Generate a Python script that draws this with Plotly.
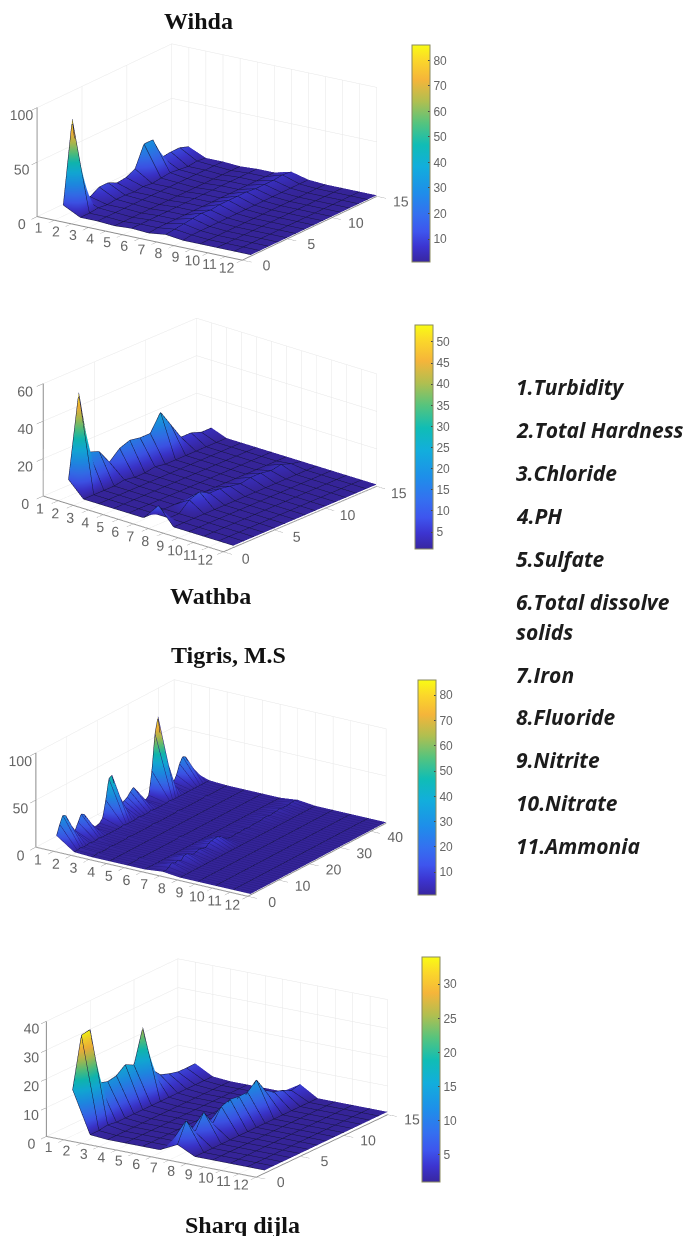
import math
import plotly.graph_objects as go

W, H = 686, 1236

sample_wy = list(range(1, 16))
sample_t = list(range(1, 46))
params = list(range(1, 13))

# rows: parameter 1..12, columns: sample
wihda_rows = [
 [10,85,10,6,11,11,7,8,12,31,31,11,12,12,9],
 [2,2,3,2,3,3,2,3,2,3,4,3,2,3,2],
 [2,2,2,2,2,2,2,2,2,2,2,2,2,2,2],
 [1,1,1,1,1,1,1,1,1,1,1,1,1,1,1],
 [2,2,2,2,2,2,2,2,2,2,2,2,2,2,2],
 [1,2,2,2,2,2,2,2,2,2,2,2,2,2,2],
 [3,4,5,6,7,6,7,7,7,7,6,6,6,7,6],
 [1,2,2,2,2,2,2,2,2,2,2,2,2,2,2],
 [1,1,1,1,1,1,1,1,1,1,1,1,1,1,1],
 [1,1,1,1,1,1,1,1,1,1,1,1,1,1,1],
 [1,1,1,1,1,1,1,1,1,1,1,1,1,1,1],
 [1,1,1,1,1,1,1,1,1,1,1,1,1,1,1],
]
wathba_rows = [
 [9,53,19,17,9,14,16,15,15,24,15,6,6,4,4],
 [1,1,1,1,2,1,1,2,1,1,1,1,1,1,1],
 [1,1,1,1,1,1,1,1,1,1,1,1,1,1,1],
 [1,1,1,1,1,1,1,1,1,1,1,1,1,1,1],
 [1,1,1,1,1,1,1,1,1,1,1,1,1,1,1],
 [1,1,1,1,1,1,1,1,1,1,1,1,1,1,1],
 [10,1,1,6,8,5,5,4,3,4,4,3,4,2,1],
 [1,1,1,1,1,1,1,1,1,1,1,1,1,1,1],
 [1,1,1,1,1,1,1,1,1,1,1,1,1,1,1],
 [1,1,1,1,1,1,1,1,1,1,1,1,1,1,1],
 [1,1,1,1,1,1,1,1,1,1,1,1,1,1,1],
 [1,1,1,1,1,1,1,1,1,1,1,1,1,1,1],
]
tigris_p1 = [15,25,33,31,22,13,10,17,24,22,14,7,3,3,4,8,25,46,48,33,18,12,14,16,20,23,18,10,5,3,6,30,68,84,55,25,10,5,6,12,22,28,26,17,8]
tigris_p2 = [2,2,3,2,2,3,2,2,3,2,2,2,2,2,2,2,3,2,2,2,2,3,2,2,2,3,2,2,2,2,2,3,2,2,2,2,2,2,2,2,2,2,2,2,2]
tigris_p3 = [1,1,2,1,1,1,2,1,1,1,1,1,2,1,1,1,1,1,1,1,2,1,1,1,1,1,1,1,2,1,1,1,1,1,1,1,1,2,1,1,1,1,1,1,1]
tigris_p4 = [1,1,1,1,1,1,1,1,1,1,1,1,1,1,1,1,1,1,1,1,1,1,1,1,1,1,1,1,1,1,1,1,1,1,1,1,1,1,1,1,1,1,1,1,1]
tigris_p5 = [1,1,1,1,2,1,1,1,1,1,1,1,1,1,1,1,1,2,1,1,1,1,1,1,1,1,1,1,1,1,1,1,1,1,1,1,1,1,1,1,1,1,1,1,1]
tigris_p6 = [1,1,1,1,1,1,1,1,1,1,1,1,1,1,1,1,1,1,1,1,1,1,1,1,1,1,1,1,1,1,1,1,1,1,1,1,1,1,1,1,1,1,1,1,1]
tigris_p7 = [3,2,4,7,5,6,4,8,8,6,4,5,6,5,4,7,8,9,9,7,4,2,1,1,2,1,2,2,1,2,2,2,2,3,3,2,3,3,4,3,3,3,4,4,3]
tigris_p8 = [1,1,1,1,1,1,1,1,1,1,1,1,1,1,1,1,1,1,1,1,1,1,1,1,1,1,1,1,1,1,1,1,1,1,1,1,1,1,1,1,1,1,1,1,1]
tigris_p9 = tigris_p8[:]
tigris_p10 = tigris_p8[:]
tigris_p11 = tigris_p8[:]
tigris_p12 = tigris_p8[:]
tigris_rows = [tigris_p1, tigris_p2, tigris_p3, tigris_p4, tigris_p5, tigris_p6,
               tigris_p7, tigris_p8, tigris_p9, tigris_p10, tigris_p11, tigris_p12]
sharq_rows = [
 [16,33.5,34,14,13,13.6,16,14.4,26,10,6.7,5.6,4.8,4.7,4.8],
 [1.5,1.5,2,1.5,1.5,1.5,1.5,1.5,1.5,1.5,1.5,1.5,1.5,1.5,1.5],
 [1,1,1,1,1,1,1,1,1,1,1,1,1,1,1],
 [1,1,1,1,1,1,1,1,1,1,1,1,1,1,1],
 [1,1,1,1,1,1,1,1,1,1,1,1,1,1,1],
 [1,1,1,1,1,1,1,1,1,1,1,1,1,1,1],
 [4,11,5.5,11,5.5,10,11,10.6,10.6,13.5,8.3,6.4,5.5,4,4.7],
 [1,1,1,1,1,1,1,1,1,1,1,1,1,1,1],
 [1,1,1,1,1,1,1,1,1,1,1,1,1,1,1],
 [1,1,1,1,1,1,1,1,1,1,1,1,1,1,1],
 [1,1,1,1,1,1,1,1,1,1,1,1,1,1,1],
 [1,1,1,1,1,1,1,1,1,1,1,1,1,1,1],
]

legend_labels = ["1.Turbidity", "2.Total Hardness", "3.Chloride", "4.PH", "5.Sulfate",
                 "6.Total dissolve", "solids", "7.Iron", "8.Fluoride", "9.Nitrite",
                 "10.Nitrate", "11.Ammonia"]
legend_ys = [387, 430, 473, 516, 559, 602, 632, 675, 717, 760, 803, 846]

parula = [[0, "#3826a0"], [0.07, "#3c34d0"], [0.14, "#3e55ee"], [0.22, "#3470f0"], [0.32, "#1e8eea"],
          [0.44, "#12aedc"], [0.54, "#10bdb5"], [0.64, "#55c47e"], [0.74, "#b0bf50"],
          [0.84, "#f5b53a"], [0.93, "#fbd72a"], [1, "#f9fb14"]]

charts = [
 dict(rows=wihda_rows, ys=sample_wy, yr=15, yt=[0,5,10,15], zr=100, zt=[0,50,100], cmax=86, cb=list(range(10,90,10)),
      theta=18.5, phi=33.8, asp=(1.02,1,0.475), s=1.92, center=(206.5,152), half=(201,126), yline="#14143c",
      bar=(412,45,262), scene="scene"),
 dict(rows=wathba_rows, ys=sample_wy, yr=15, yt=[0,5,10,15], zr=60, zt=[0,20,40,60], cmax=54, cb=list(range(5,55,5)),
      theta=21.3, phi=40.4, asp=(1,1,0.51), s=1.69, center=(209.5,435), half=(205,140), yline="#14143c",
      bar=(415,325,549), scene="scene2"),
 dict(rows=tigris_rows, ys=sample_t, yr=45, yt=[0,10,20,30,40], zr=100, zt=[0,50,100], cmax=86, cb=list(range(10,90,10)),
      theta=20.5, phi=33.5, asp=(1.05,1.035,0.416), s=1.937, center=(211,788), half=(205,125), yline="#261c80",
      bar=(418,680,895), scene="scene3"),
 dict(rows=sharq_rows, ys=sample_wy, yr=15, yt=[0,5,10,15], zr=40, zt=[0,10,20,30,40], cmax=34, cb=list(range(5,35,5)),
      theta=17.7, phi=32.6, asp=(1.02,1,0.495), s=1.953, center=(216.5,1068), half=(205,125), yline="#14143c",
      bar=(422,957,1182), scene="scene4"),
]

fig = go.Figure()
layout = {}
for c in charts:
    z = [[row[j] for row in c["rows"]] for j in range(len(c["ys"]))]
    x0, y0, y1 = c["bar"]
    fig.add_trace(go.Surface(
        x=params, y=c["ys"], z=z, scene=c["scene"], colorscale=parula, cmin=1, cmax=c["cmax"],
        lighting=dict(ambient=0.95, diffuse=0.2, specular=0, roughness=1, fresnel=0),
        lightposition=dict(x=1000, y=-3000, z=6000),
        contours=dict(
            x=dict(show=True, color="#14143c", width=1, start=1, end=12, size=1, highlight=False),
            y=dict(show=True, color=c["yline"], width=1, start=1, end=c["ys"][-1], size=1, highlight=False),
            z=dict(highlight=False)),
        hoverinfo="skip",
        colorbar=dict(thickness=18, thicknessmode="pixels", lenmode="fraction", len=(y1-y0)/H,
                      x=x0/W, xanchor="left", xref="paper", y=1-y1/H, yanchor="bottom", yref="paper",
                      tickvals=c["cb"], ticks="inside", ticklen=2, tickcolor="#444",
                      tickfont=dict(size=12, color="#666", family="Liberation Sans"),
                      outlinecolor="#8a8a60", outlinewidth=1, xpad=0, ypad=0),
    ))
    th, ph = math.radians(c["theta"]), math.radians(c["phi"])
    d = 4.0
    eye = dict(x=d*math.sin(ph)*math.cos(th), y=-d*math.cos(ph)*math.cos(th), z=d*math.sin(th))
    cx, cy = c["center"]
    hx, hy = c["half"]
    def ax(rng, tv, tl=4):
        return dict(range=rng, autorange=False, tickmode="array", tickvals=tv, ticktext=[str(t) for t in tv],
                    showbackground=False, gridcolor="#e6e6e6", gridwidth=1, showline=True, linecolor="#8c8c8c",
                    linewidth=2, ticks="outside", ticklen=tl, tickcolor="#8c8c8c", zeroline=False,
                    showspikes=False, title=dict(text=""), tickangle=0,
                    tickfont=dict(size=13, color="#666", family="Liberation Sans"))
    layout[c["scene"]] = dict(
        domain=dict(x=[(cx-hx)/W, (cx+hx)/W], y=[1-(cy+hy)/H, 1-(cy-hy)/H]),
        xaxis=ax([0,12], list(range(0,13)), 11),
        yaxis=ax([0,c["yr"]], c["yt"], 10),
        zaxis=ax([0,c["zr"]], c["zt"], 6),
        aspectmode="manual",
        aspectratio=dict(x=c["asp"][0]*c["s"], y=c["asp"][1]*c["s"], z=c["asp"][2]*c["s"]),
        camera=dict(eye=eye, up=dict(x=0,y=0,z=1), center=dict(x=0,y=0,z=0),
                    projection=dict(type="orthographic")),
    )

titles = [("Wihda", 198, 21), ("Wathba", 210, 596), ("Tigris, M.S", 228, 655), ("Sharq dijla", 242, 1225)]
annotations = [dict(text=f"<b>{t}</b>", x=px/W, y=1-py/H, xref="paper", yref="paper", showarrow=False,
                    xanchor="center", yanchor="middle",
                    font=dict(family="Liberation Serif", size=24, color="#111")) for t, px, py in titles]
for lab, py in zip(legend_labels, legend_ys):
    annotations.append(dict(text=f"<b><i>{lab}</i></b>", x=514/W, y=1-py/H, xref="paper", yref="paper", showarrow=False,
                            xanchor="left", yanchor="middle",
                            font=dict(family="Open Sans", size=21, color="#1c1c1c")))

fig.update_layout(width=W, height=H, margin=dict(l=0, r=0, t=0, b=0), paper_bgcolor="white",
                  annotations=annotations, showlegend=False, **layout)
fig.write_html("out.html", post_script="document.body.style.margin='0';", config=dict(displayModeBar=False))
